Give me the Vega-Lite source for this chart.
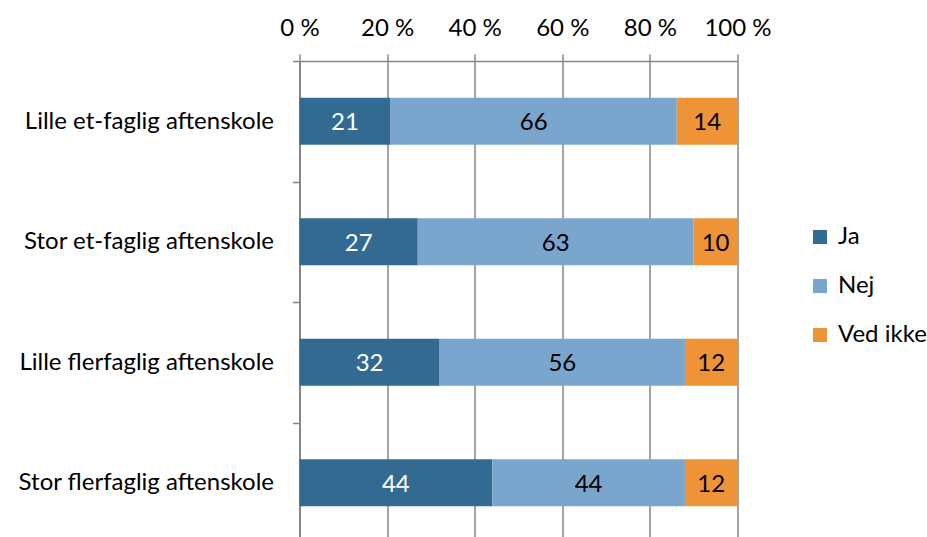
{
  "$schema": "https://vega.github.io/schema/vega-lite/v6.json",
  "width": 438,
  "height": 476,
  "autosize": {"type": "none"},
  "padding": {"left": 299.5, "top": 61, "right": 189.5, "bottom": 0},
  "background": "white",
  "config": {"view": {"stroke": null}, "font": "Lato"},
  "data": {
    "values": [
      {"skole": "Lille et-faglig aftenskole", "svar": "Ja", "pct": 21},
      {"skole": "Lille et-faglig aftenskole", "svar": "Nej", "pct": 66},
      {"skole": "Lille et-faglig aftenskole", "svar": "Ved ikke", "pct": 14},
      {"skole": "Stor et-faglig aftenskole", "svar": "Ja", "pct": 27},
      {"skole": "Stor et-faglig aftenskole", "svar": "Nej", "pct": 63},
      {"skole": "Stor et-faglig aftenskole", "svar": "Ved ikke", "pct": 10},
      {"skole": "Lille flerfaglig aftenskole", "svar": "Ja", "pct": 32},
      {"skole": "Lille flerfaglig aftenskole", "svar": "Nej", "pct": 56},
      {"skole": "Lille flerfaglig aftenskole", "svar": "Ved ikke", "pct": 12},
      {"skole": "Stor flerfaglig aftenskole", "svar": "Ja", "pct": 44},
      {"skole": "Stor flerfaglig aftenskole", "svar": "Nej", "pct": 44},
      {"skole": "Stor flerfaglig aftenskole", "svar": "Ved ikke", "pct": 12}
    ]
  },
  "encoding": {
    "y": {
      "field": "skole",
      "type": "nominal",
      "sort": null,
      "scale": {"range": [0, 482], "paddingInner": 0, "paddingOuter": 0},
      "axis": {
        "title": null,
        "domain": true,
        "domainColor": "#868686",
        "domainWidth": 2,
        "ticks": true,
        "tickBand": "extent",
        "tickSize": 7,
        "tickColor": "#868686",
        "tickWidth": 1.5,
        "labelFontSize": 24,
        "labelFontWeight": "normal",
        "labelColor": "#000000",
        "labelPadding": 19,
        "labelLimit": 320,
        "grid": false
      }
    }
  },
  "layer": [
    {
      "mark": {"type": "bar", "size": 47},
      "encoding": {
        "x": {
          "field": "pct",
          "type": "quantitative",
          "stack": "normalize",
          "scale": {"domain": [0, 1], "nice": false},
          "axis": {
            "orient": "top",
            "title": null,
            "values": [0, 0.2, 0.4, 0.6, 0.8, 1],
            "labelExpr": "format(datum.value * 100, 'd') + ' %'",
            "labelFontSize": 24,
            "labelColor": "#000000",
            "labelFlush": false,
            "labelOverlap": false,
            "labelPadding": 14,
            "tickSize": 7,
            "tickColor": "#868686",
            "tickWidth": 1.5,
            "domainColor": "#868686",
            "domainWidth": 1.5,
            "grid": true,
            "gridColor": "#868686",
            "gridWidth": 1.5
          }
        },
        "order": {"field": "svar", "type": "nominal", "sort": "ascending"},
        "color": {
          "field": "svar",
          "type": "nominal",
          "scale": {"domain": ["Ja", "Nej", "Ved ikke"], "range": ["#336A91", "#7AA6CE", "#EE9437"]},
          "legend": {
            "orient": "none",
            "legendX": 508.5,
            "legendY": 164,
            "title": null,
            "symbolType": "square",
            "symbolSize": 196,
            "symbolStrokeWidth": 0,
            "labelFontSize": 24,
            "labelColor": "#000000",
            "labelOffset": 6,
            "rowPadding": 25
          }
        }
      }
    },
    {
      "mark": {"type": "text", "fontSize": 24, "dy": 2},
      "encoding": {
        "x": {"field": "pct", "type": "quantitative", "stack": "normalize", "bandPosition": 0.5},
        "detail": {"field": "svar"},
        "order": {"field": "svar", "type": "nominal", "sort": "ascending"},
        "text": {"field": "pct", "type": "quantitative"},
        "color": {"condition": {"test": "datum.svar === 'Ja'", "value": "#ffffff"}, "value": "#000000"}
      }
    }
  ]
}
